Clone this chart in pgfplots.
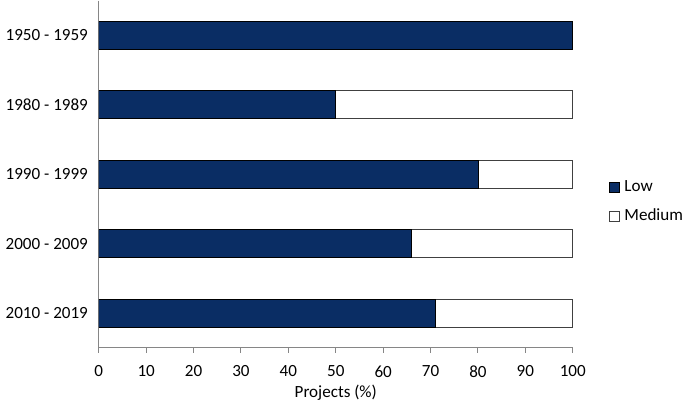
\documentclass[border=0pt]{standalone}
\usepackage{pgfplots}
\pgfplotsset{compat=1.18}
\usepackage{fontspec}
\setmainfont{Carlito}
\definecolor{navy}{RGB}{10,45,100}
\definecolor{axisgray}{RGB}{134,134,134}
\begin{document}
\fontsize{17}{20}\selectfont
\begin{tikzpicture}
\begin{axis}[
  scale only axis,
  width=472pt, height=346pt,
  xbar stacked,
  bar width=0.4,
  xmin=0, xmax=100,
  ymin=-0.5, ymax=4.5,
  y dir=reverse,
  xtick={0,10,...,100},
  ytick={0,1,2,3,4},
  yticklabels={1950 - 1959, 1980 - 1989, 1990 - 1999, 2000 - 2009, 2010 - 2019},
  axis x line*=bottom,
  axis y line*=left,
  axis line style={axisgray, line width=1pt, -},
  x tick style={axisgray, line width=1pt},
  major tick length=5pt,
  tick align=outside,
  ytick style={draw=none},
  xlabel={Projects (\%)},
  xticklabel style={yshift=-7pt},
  xlabel style={yshift=4pt},
  /pgf/number format/assume math mode=true,
  tick label style={font=\fontsize{17}{20}\selectfont},
  label style={font=\fontsize{17}{20}\selectfont},
  legend style={draw=none, at={(axis description cs:1.075,0.42)}, anchor=west,
    font=\fontsize{17}{20}\selectfont, row sep=11pt, cells={anchor=west},
    inner xsep=0pt},
  legend image code/.code={\draw[#1] (0pt,-5pt) rectangle (10pt,5pt);},
  legend cell align=left,
]
\addplot[fill=navy, draw=black, line width=0.8pt] coordinates {
  (100,0) (50,1) (80,2) (66,3) (71,4)};
\addplot[fill=white, draw=black!75, line width=0.8pt] coordinates {
  (0,0) (50,1) (20,2) (34,3) (29,4)};
\legend{\hspace{3pt}Low, \hspace{3pt}Medium}
\end{axis}
\end{tikzpicture}
\end{document}
